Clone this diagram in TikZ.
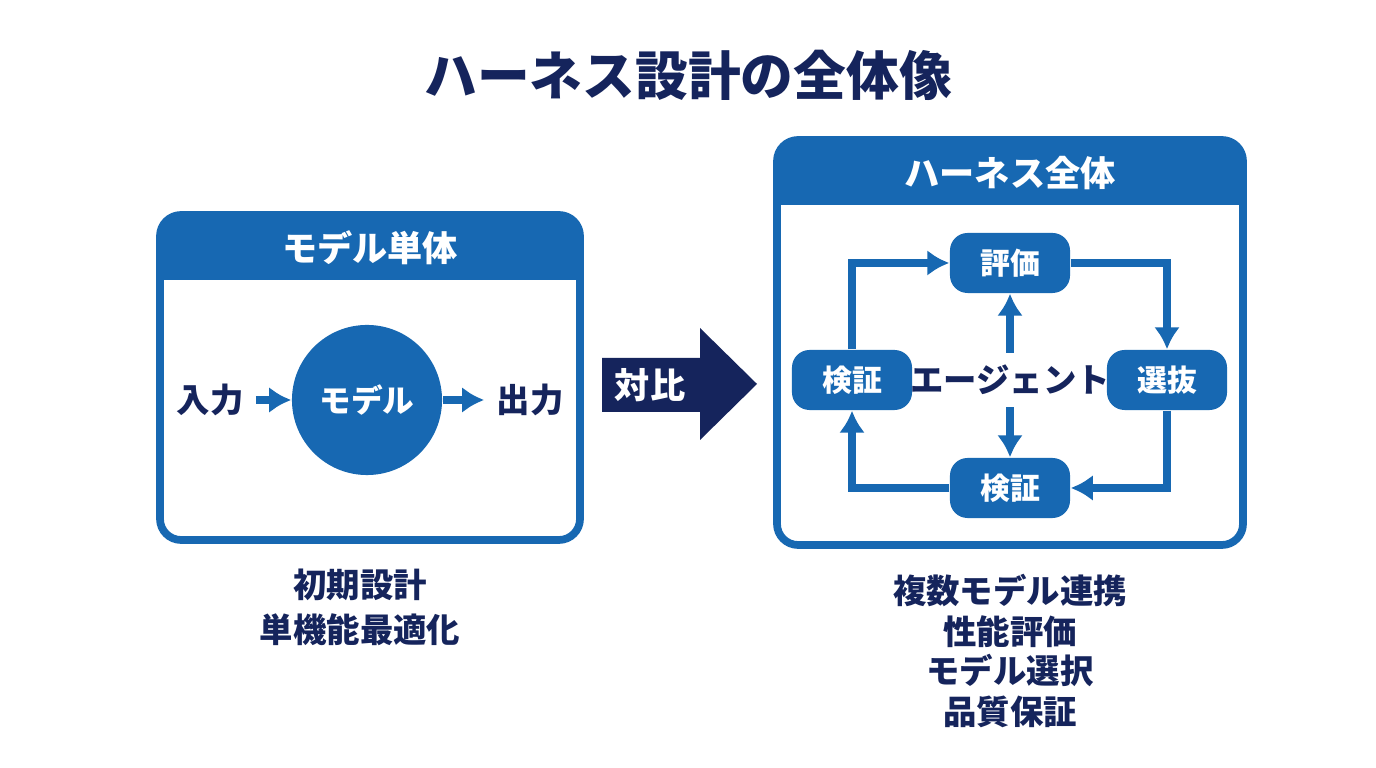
\documentclass[tikz,border=0pt]{standalone}
\usepackage{fontspec}
\setmainfont{Noto Sans CJK JP}
\usetikzlibrary{arrows.meta,positioning,calc}
\definecolor{hblue}{HTML}{1768B2}
\definecolor{hnavy}{HTML}{15245C}

\begin{document}
\begin{tikzpicture}[x=0.01cm, y=-0.01cm,
    box/.style={draw=hblue, line width=2.2pt, rounded corners=6pt},
    head/.style={fill=hblue, rounded corners=6pt},
    stage/.style={fill=hblue, rounded corners=5pt, minimum width=1.2cm, minimum height=0.6cm,
        text=white, font=\fontsize{8.5}{10}\selectfont\bfseries},
    flow/.style={draw=hblue, line width=2.2pt, -{Latex[length=2.2mm, width=2.6mm]}},
    note/.style={text=hnavy, font=\fontsize{9.5}{11}\selectfont\bfseries}]

    \useasboundingbox (0,0) rectangle (1376,768);
    \fill[white] (0,0) rectangle (1376,768);

    % Title
    \node[text=hnavy, font=\fontsize{15}{18}\selectfont\bfseries] (title) at (688,75) {ハーネス設計の全体像};

    % Left panel
    \draw[box] (160,215) rectangle (580,540);
    \fill[head] (160,215) rectangle (580,280);
    \fill[hblue] (160,260) rectangle (580,280);
    \node[text=white, font=\fontsize{10}{12}\selectfont\bfseries] (lhead) at (370,248) {モデル単体};
    \node[circle, fill=hblue, minimum size=1.5cm, text=white,
        font=\fontsize{9}{11}\selectfont\bfseries] (model) at (367,400) {モデル};
    \node[note] (in) at (210,400) {入力};
    \node[note] (out) at (530,400) {出力};
    \draw[flow] (in) -- (model);
    \draw[flow] (model) -- (out);
    \node[note] (l1) at (360,585) {初期設計};
    \node[note] (l2) at (360,630) {単機能最適化};

    % Contrast arrow
    \fill[hnavy] (602,358) -- (700,358) -- (700,328) -- (757,384) -- (700,440)
        -- (700,412) -- (602,412) -- cycle;
    \node[text=white, font=\fontsize{10}{12}\selectfont\bfseries] (vs) at (650,385) {対比};

    % Right panel
    \draw[box] (777,140) rectangle (1243,545);
    \fill[head] (777,140) rectangle (1243,205);
    \fill[hblue] (777,185) rectangle (1243,205);
    \node[text=white, font=\fontsize{10}{12}\selectfont\bfseries] (rhead) at (1010,173) {ハーネス全体};

    \node[stage] (eval) at (1010,263) {評価};
    \node[stage] (check) at (852,380) {検証};
    \node[stage] (select) at (1167,380) {選抜};
    \node[stage] (verify) at (1010,488) {検証};
    \node[text=hnavy, font=\fontsize{9.5}{11}\selectfont\bfseries] (agent) at (1010,380) {エージェント};

    \draw[flow] (check.north) |- (eval.west);
    \draw[flow] (eval.east) -| (select.north);
    \draw[flow] (select.south) |- (verify.east);
    \draw[flow] (verify.west) -| (check.south);
    \draw[flow] (agent.north) -- (eval.south);
    \draw[flow] (agent.south) -- (verify.north);

    \node[note] (r1) at (1010,590) {複数モデル連携};
    \node[note] (r2) at (1010,632) {性能評価};
    \node[note] (r3) at (1010,670) {モデル選択};
    \node[note] (r4) at (1010,712) {品質保証};

\end{tikzpicture}
\end{document}
